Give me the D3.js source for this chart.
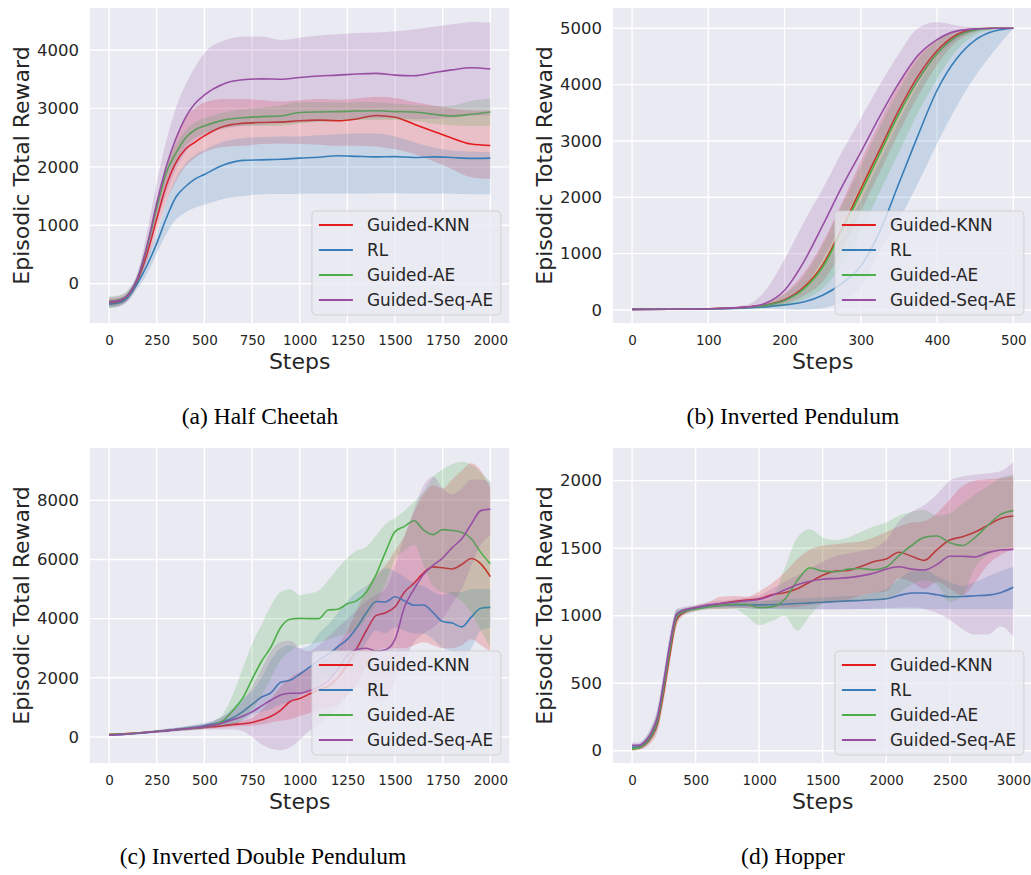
<!DOCTYPE html>
<html>
<head>
<meta charset="utf-8">
<script src="https://cdn.jsdelivr.net/npm/d3@7"></script>
<style>
  body { margin: 0; background: #ffffff; }
  svg { display: block; }
</style>
</head>
<body>
<div id="chart"></div>
<script>
// legend labels and their colours (seaborn Set1)
var seriesNames = ['Guided-KNN', 'RL', 'Guided-AE', 'Guided-Seq-AE']
var seriesColors = ['#e41a1c', '#377eb8', '#4daf4a', '#984ea3']

// (a) half cheetah
var cheetahSteps = [0, 50, 100, 150, 200, 250, 300, 350, 400, 450, 500, 600, 700, 800, 900, 1000, 1100, 1200, 1300, 1400, 1500, 1600, 1700, 1800, 1900, 2000]
var cheetahKnn = [-330, -310, -210, 60, 520, 1110, 1680, 2070, 2300, 2420, 2530, 2690, 2745, 2760, 2765, 2790, 2800, 2790, 2820, 2880, 2850, 2730, 2610, 2490, 2390, 2365]
var cheetahKnnHi = [-260, -240, -150, 150, 650, 1300, 1950, 2500, 2850, 3000, 3100, 3160, 3160, 3140, 3120, 3140, 3160, 3150, 3170, 3200, 3180, 3110, 3050, 3000, 2960, 2960]
var cheetahKnnLo = [-400, -380, -280, -20, 380, 900, 1400, 1750, 2000, 2150, 2250, 2340, 2360, 2390, 2400, 2390, 2380, 2360, 2360, 2350, 2300, 2220, 2100, 1960, 1820, 1790]
var cheetahRl = [-350, -330, -230, 10, 320, 690, 1120, 1480, 1660, 1790, 1870, 2030, 2110, 2120, 2130, 2150, 2165, 2190, 2180, 2170, 2175, 2160, 2170, 2160, 2145, 2150]
var cheetahRlHi = [-280, -260, -170, 120, 480, 860, 1400, 1800, 2050, 2200, 2290, 2430, 2490, 2510, 2520, 2520, 2540, 2560, 2570, 2570, 2520, 2420, 2330, 2280, 2260, 2250]
var cheetahRlLo = [-420, -400, -300, -80, 170, 520, 850, 1100, 1220, 1300, 1350, 1450, 1500, 1530, 1535, 1540, 1545, 1545, 1545, 1550, 1550, 1545, 1545, 1540, 1530, 1530]
var cheetahAe = [-300, -280, -180, 100, 640, 1300, 1900, 2230, 2490, 2630, 2700, 2800, 2840, 2860, 2870, 2930, 2940, 2945, 2955, 2960, 2945, 2940, 2900, 2870, 2900, 2940]
var cheetahAeHi = [-220, -200, -110, 180, 760, 1450, 2050, 2380, 2620, 2760, 2830, 2930, 2980, 3010, 3050, 3110, 3110, 3100, 3110, 3110, 3080, 3060, 3040, 3050, 3130, 3170]
var cheetahAeLo = [-420, -380, -260, 0, 520, 1150, 1750, 2080, 2360, 2500, 2570, 2670, 2700, 2700, 2700, 2740, 2770, 2790, 2800, 2800, 2800, 2790, 2740, 2710, 2700, 2700]
var cheetahSeq = [-310, -290, -190, 100, 660, 1375, 2000, 2480, 2840, 3080, 3230, 3420, 3490, 3505, 3500, 3530, 3555, 3570, 3590, 3600, 3570, 3560, 3610, 3660, 3695, 3675]
var cheetahSeqHi = [-230, -210, -110, 200, 900, 1720, 2450, 3000, 3400, 3700, 3950, 4160, 4225, 4230, 4170, 4210, 4250, 4270, 4290, 4300, 4320, 4350, 4400, 4440, 4480, 4470]
var cheetahSeqLo = [-390, -370, -270, 0, 450, 1050, 1550, 1950, 2250, 2450, 2550, 2650, 2700, 2720, 2740, 2760, 2780, 2800, 2820, 2830, 2830, 2820, 2820, 2840, 2880, 2880]

// (b) inverted pendulum
var pendSteps = [0, 50, 100, 150, 175, 200, 225, 250, 275, 300, 325, 350, 375, 400, 425, 450, 475, 500]
var pendKnn = [10, 12, 20, 50, 90, 180, 400, 800, 1450, 2150, 2850, 3550, 4150, 4600, 4880, 4980, 5000, 5000]
var pendKnnHi = [20, 22, 32, 70, 130, 300, 650, 1200, 1900, 2650, 3350, 4000, 4500, 4800, 4950, 5000, 5000, 5000]
var pendKnnLo = [2, 4, 10, 30, 60, 110, 250, 500, 1050, 1750, 2450, 3150, 3800, 4350, 4750, 4930, 4990, 5000]
var pendRl = [10, 12, 18, 35, 55, 90, 140, 260, 470, 780, 1400, 2250, 3100, 3900, 4450, 4790, 4950, 5000]
var pendRlHi = [25, 28, 35, 60, 100, 180, 350, 750, 1300, 1950, 2650, 3350, 4000, 4500, 4850, 4980, 5000, 5000]
var pendRlLo = [0, 0, 5, 15, 20, 10, 5, 30, 150, 400, 1050, 1600, 2250, 2950, 3600, 4150, 4600, 5000]
var pendAe = [10, 12, 20, 45, 85, 170, 370, 760, 1400, 2080, 2780, 3480, 4080, 4550, 4850, 4970, 5000, 5000]
var pendAeHi = [20, 22, 30, 65, 120, 280, 600, 1150, 1850, 2550, 3250, 3900, 4450, 4780, 4950, 5020, 5010, 5000]
var pendAeLo = [2, 4, 10, 25, 40, 80, 180, 380, 800, 1400, 2100, 2800, 3500, 4100, 4600, 4880, 4980, 5000]
var pendSeq = [10, 12, 20, 50, 120, 350, 850, 1500, 2180, 2800, 3440, 4030, 4520, 4800, 4950, 4990, 5000, 5000]
var pendSeqHi = [20, 25, 35, 90, 350, 900, 1550, 2150, 2800, 3400, 4000, 4550, 5000, 5110, 5050, 5010, 5000, 5000]
var pendSeqLo = [2, 4, 10, 25, 60, 150, 400, 900, 1550, 2200, 2850, 3500, 4050, 4500, 4800, 4950, 5000, 5000]

// (c) inverted double pendulum
var doubleSteps = [0, 50, 100, 150, 200, 250, 300, 350, 400, 450, 500, 550, 600, 650, 700, 750, 800, 850, 900, 950, 1000, 1050, 1100, 1150, 1200, 1250, 1300, 1350, 1400, 1450, 1500, 1550, 1600, 1650, 1700, 1750, 1800, 1850, 1900, 1950, 2000]
var doubleKnn = [90, 100, 115, 135, 160, 185, 215, 245, 270, 295, 320, 350, 380, 420, 450, 490, 580, 700, 900, 1200, 1300, 1450, 1600, 1720, 2000, 2450, 3000, 3600, 4100, 4200, 4400, 4900, 5200, 5550, 5750, 5720, 5680, 5830, 6030, 5850, 5420]
var doubleKnnHi = [110, 120, 140, 160, 190, 220, 250, 280, 310, 340, 370, 410, 450, 500, 560, 650, 900, 1300, 1700, 2000, 2200, 2300, 2500, 2700, 3100, 3600, 4300, 5000, 5500, 5800, 6300, 6800, 7600, 8200, 8500, 8400, 8700, 9000, 9250, 9000, 8400]
var doubleKnnLo = [70, 80, 90, 110, 130, 150, 180, 210, 230, 250, 270, 290, 320, 350, 370, 380, 420, 500, 550, 600, 700, 800, 900, 1000, 1100, 1400, 1800, 2400, 2900, 3000, 3000, 3000, 3100, 3200, 3100, 3000, 3000, 3100, 3300, 3100, 2900]
var doubleRl = [60, 80, 100, 125, 155, 185, 215, 250, 290, 330, 380, 450, 520, 650, 850, 1100, 1350, 1500, 1850, 1920, 2120, 2350, 2600, 2800, 3050, 3300, 3700, 4200, 4580, 4560, 4740, 4600, 4450, 4460, 4200, 3900, 3850, 3720, 4050, 4350, 4380]
var doubleRlHi = [90, 110, 130, 160, 190, 230, 270, 310, 360, 410, 470, 560, 700, 1000, 1300, 1550, 2000, 2600, 3000, 3100, 3000, 3100, 3500, 3800, 4200, 4600, 4900, 5100, 5400, 5700, 5600, 5400, 5200, 5100, 4900, 4800, 4900, 4900, 5000, 5000, 5000]
var doubleRlLo = [30, 50, 70, 90, 120, 140, 160, 190, 220, 250, 290, 340, 380, 430, 550, 750, 850, 950, 1100, 1200, 1400, 1600, 1800, 2000, 2200, 2400, 2700, 3200, 3600, 3500, 3700, 3600, 3500, 3500, 3300, 3000, 2900, 2700, 3000, 3600, 3700]
var doubleAe = [80, 95, 110, 130, 160, 190, 220, 250, 280, 310, 340, 420, 560, 900, 1300, 1950, 2560, 3050, 3700, 3980, 4010, 4000, 4000, 4290, 4320, 4500, 4610, 4900, 5480, 6250, 6940, 7120, 7310, 6990, 6840, 7010, 6980, 6920, 6700, 6240, 5850]
var doubleAeHi = [120, 135, 150, 170, 200, 230, 260, 300, 340, 380, 430, 530, 800, 1450, 2300, 3150, 3800, 4450, 4900, 4990, 4800, 4850, 4950, 5300, 5700, 6050, 6300, 6430, 6800, 7200, 7400, 7650, 7950, 8300, 8800, 9050, 9220, 9300, 9200, 8950, 8630]
var doubleAeLo = [40, 55, 70, 90, 120, 150, 180, 200, 220, 250, 270, 330, 380, 450, 600, 900, 1400, 2000, 2600, 2900, 3100, 3150, 3200, 3300, 3400, 3500, 3650, 4000, 4500, 5200, 6000, 6300, 6500, 5800, 5100, 4900, 4800, 4600, 4200, 3600, 3000]
var doubleSeq = [60, 80, 100, 125, 155, 185, 215, 250, 280, 310, 350, 400, 480, 580, 700, 850, 1050, 1250, 1420, 1480, 1480, 1560, 1700, 1900, 2300, 2750, 2960, 3000, 2900, 2950, 3300, 4400, 5000, 5500, 5800, 6050, 6400, 6700, 7200, 7650, 7700]
var doubleSeqHi = [90, 110, 130, 160, 190, 230, 270, 310, 350, 400, 450, 550, 700, 900, 1200, 1700, 2300, 2900, 3200, 3250, 3000, 2900, 3100, 3400, 3700, 4000, 4300, 4600, 4800, 5000, 5800, 6800, 7700, 8500, 8800, 8400, 8200, 8400, 8700, 8700, 8600]
var doubleSeqLo = [30, 50, 70, 90, 120, 140, 160, 190, 210, 230, 250, 250, 250, 250, 200, 0, -250, -400, -450, -350, -100, 200, 400, 700, 1000, 1400, 1700, 1500, 1200, 1300, 1900, 2600, 3200, 3500, 3700, 4000, 4500, 5000, 5800, 6500, 6800]

// (d) hopper
var hopperSteps = [0, 50, 100, 150, 200, 250, 300, 350, 400, 500, 600, 700, 800, 900, 1000, 1100, 1200, 1300, 1400, 1500, 1600, 1700, 1800, 1900, 2000, 2100, 2200, 2300, 2400, 2500, 2600, 2700, 2800, 2900, 3000]
var hopperKnn = [15, 20, 45, 100, 200, 440, 730, 970, 1020, 1055, 1075, 1090, 1105, 1115, 1125, 1155, 1170, 1200, 1250, 1300, 1330, 1335, 1365, 1400, 1420, 1470, 1440, 1410, 1490, 1560, 1585, 1620, 1670, 1720, 1738]
var hopperKnnHi = [35, 40, 75, 150, 270, 520, 810, 1020, 1045, 1075, 1100, 1140, 1145, 1140, 1180, 1240, 1320, 1420, 1490, 1520, 1530, 1540, 1550, 1580, 1620, 1660, 1690, 1700, 1760, 1860, 1960, 2000, 2010, 2020, 2030]
var hopperKnnLo = [0, 5, 20, 60, 140, 370, 660, 920, 995, 1035, 1050, 1050, 1055, 1060, 1060, 1060, 1060, 1065, 1080, 1090, 1100, 1120, 1150, 1170, 1180, 1280, 1250, 1200, 1250, 1200, 1150, 1250, 1380, 1450, 1490]
var hopperRl = [25, 30, 60, 120, 240, 500, 790, 1000, 1030, 1055, 1070, 1075, 1080, 1080, 1080, 1082, 1085, 1090, 1095, 1100, 1105, 1110, 1113, 1118, 1125, 1150, 1168, 1168, 1155, 1140, 1142, 1148, 1152, 1170, 1210]
var hopperRlHi = [45, 50, 90, 160, 300, 570, 860, 1040, 1050, 1070, 1085, 1090, 1095, 1100, 1110, 1115, 1120, 1125, 1130, 1135, 1140, 1145, 1150, 1170, 1200, 1270, 1330, 1340, 1290, 1250, 1220, 1250, 1290, 1330, 1360]
var hopperRlLo = [10, 15, 35, 85, 180, 430, 720, 960, 1010, 1040, 1055, 1060, 1060, 1055, 1050, 1050, 1050, 1050, 1050, 1050, 1050, 1050, 1050, 1050, 1050, 1050, 1050, 1050, 1050, 1050, 1050, 1050, 1050, 1050, 1050]
var hopperAe = [15, 20, 50, 110, 220, 470, 760, 990, 1030, 1050, 1065, 1075, 1085, 1085, 1060, 1065, 1120, 1260, 1355, 1330, 1325, 1345, 1350, 1340, 1360, 1445, 1520, 1580, 1590, 1540, 1520, 1580, 1670, 1750, 1778]
var hopperAeHi = [35, 40, 80, 160, 290, 550, 840, 1040, 1055, 1070, 1085, 1095, 1110, 1115, 1105, 1130, 1350, 1580, 1640, 1580, 1560, 1580, 1620, 1660, 1690, 1740, 1770, 1785, 1740, 1760, 1830, 1900, 1960, 2020, 2050]
var hopperAeLo = [0, 5, 25, 70, 160, 400, 690, 940, 1005, 1030, 1045, 1050, 1050, 1000, 930, 960, 1000, 890, 1000, 1090, 1100, 1100, 1110, 1110, 1120, 1170, 1230, 1260, 1230, 1100, 1150, 1360, 1450, 1490, 1510]
var hopperSeq = [40, 40, 65, 130, 250, 510, 800, 1010, 1040, 1060, 1080, 1090, 1100, 1110, 1120, 1150, 1190, 1230, 1255, 1270, 1276, 1282, 1295, 1315, 1345, 1362, 1345, 1338, 1380, 1440, 1440, 1435, 1467, 1486, 1491]
var hopperSeqHi = [60, 60, 95, 180, 320, 590, 870, 1050, 1065, 1080, 1100, 1110, 1120, 1135, 1150, 1200, 1250, 1300, 1350, 1400, 1440, 1460, 1480, 1500, 1560, 1700, 1770, 1820, 1900, 2000, 2030, 2045, 2055, 2070, 2140]
var hopperSeqLo = [20, 20, 40, 90, 190, 440, 730, 960, 1015, 1040, 1055, 1060, 1060, 1055, 1050, 1050, 1048, 1046, 1045, 1045, 1046, 1048, 1050, 1052, 1055, 1058, 1060, 1050, 1020, 970, 900, 860, 860, 920, 845]

// tick labels
var cheetahXTicks = [0, 250, 500, 750, 1000, 1250, 1500, 1750, 2000]
var cheetahYTicks = [0, 1000, 2000, 3000, 4000]
var pendXTicks = [0, 100, 200, 300, 400, 500]
var pendYTicks = [0, 1000, 2000, 3000, 4000, 5000]
var doubleXTicks = [0, 250, 500, 750, 1000, 1250, 1500, 1750, 2000]
var doubleYTicks = [0, 2000, 4000, 6000, 8000]
var hopperXTicks = [0, 500, 1000, 1500, 2000, 2500, 3000]
var hopperYTicks = [0, 500, 1000, 1500, 2000]

var captions = ['(a) Half Cheetah', '(b) Inverted Pendulum', '(c) Inverted Double Pendulum', '(d) Hopper']

var width = 1031
var height = 875
var textColor = '#262626'
var font = '"DejaVu Sans", "Liberation Sans", sans-serif'
var plain = d3.format('d')

var svg = d3.select('#chart')
    .append('svg')
    .attr('width', width)
    .attr('height', height)

var panels = [
    {
        steps: cheetahSteps,
        series: [[cheetahKnn, cheetahKnnLo, cheetahKnnHi], [cheetahRl, cheetahRlLo, cheetahRlHi], [cheetahAe, cheetahAeLo, cheetahAeHi], [cheetahSeq, cheetahSeqLo, cheetahSeqHi]],
        xDomain: [-100, 2100], yDomain: [-673, 4719],
        left: 90, right: 509.4, top: 8, bottom: 323,
        xTicks: cheetahXTicks, yTicks: cheetahYTicks,
        ylabelX: 29, caption: captions[0], captionX: 260, captionY: 424
    },
    {
        steps: pendSteps,
        series: [[pendKnn, pendKnnLo, pendKnnHi], [pendRl, pendRlLo, pendRlHi], [pendAe, pendAeLo, pendAeHi], [pendSeq, pendSeqLo, pendSeqHi]],
        xDomain: [-25, 525], yDomain: [-231, 5360],
        left: 613, right: 1032.4, top: 8, bottom: 323,
        xTicks: pendXTicks, yTicks: pendYTicks,
        ylabelX: 552, caption: captions[1], captionX: 793, captionY: 424
    },
    {
        steps: doubleSteps,
        series: [[doubleKnn, doubleKnnLo, doubleKnnHi], [doubleRl, doubleRlLo, doubleRlHi], [doubleAe, doubleAeLo, doubleAeHi], [doubleSeq, doubleSeqLo, doubleSeqHi]],
        xDomain: [-100, 2100], yDomain: [-879, 9767],
        left: 90, right: 509.4, top: 448, bottom: 763,
        xTicks: doubleXTicks, yTicks: doubleYTicks,
        ylabelX: 29, caption: captions[2], captionX: 263, captionY: 864
    },
    {
        steps: hopperSteps,
        series: [[hopperKnn, hopperKnnLo, hopperKnnHi], [hopperRl, hopperRlLo, hopperRlHi], [hopperAe, hopperAeLo, hopperAeHi], [hopperSeq, hopperSeqLo, hopperSeqHi]],
        xDomain: [-150, 3150], yDomain: [-91, 2242],
        left: 613, right: 1032.4, top: 448, bottom: 763,
        xTicks: hopperXTicks, yTicks: hopperYTicks,
        ylabelX: 552, caption: captions[3], captionX: 793, captionY: 864
    }
]

panels.forEach(function (p, idx) { draw_panel(p, idx) })

function draw_panel(p, idx) {
    var x = d3.scaleLinear().domain(p.xDomain).range([p.left, p.right])
    var y = d3.scaleLinear().domain(p.yDomain).range([p.bottom, p.top])
    var g = svg.append('g')

    // seaborn darkgrid background
    g.append('rect')
        .attr('x', p.left)
        .attr('y', p.top)
        .attr('width', p.right - p.left)
        .attr('height', p.bottom - p.top)
        .attr('fill', '#eaeaf2')

    g.selectAll('vgrid')
        .data(p.xTicks)
        .enter()
        .append('line')
        .attr('x1', function (d) { return x(d) })
        .attr('x2', function (d) { return x(d) })
        .attr('y1', p.top)
        .attr('y2', p.bottom)
        .attr('stroke', '#ffffff')
        .attr('stroke-width', 1.4)

    g.selectAll('hgrid')
        .data(p.yTicks)
        .enter()
        .append('line')
        .attr('x1', p.left)
        .attr('x2', p.right)
        .attr('y1', function (d) { return y(d) })
        .attr('y2', function (d) { return y(d) })
        .attr('stroke', '#ffffff')
        .attr('stroke-width', 1.4)

    var clipId = 'clip' + idx
    svg.append('clipPath')
        .attr('id', clipId)
        .append('rect')
        .attr('x', p.left)
        .attr('y', p.top)
        .attr('width', p.right - p.left)
        .attr('height', p.bottom - p.top)

    var plot = g.append('g').attr('clip-path', 'url(#' + clipId + ')')

    var area = d3.area()
        .x(function (d) { return x(d.step) })
        .y0(function (d) { return y(d.lo) })
        .y1(function (d) { return y(d.hi) })
        .curve(d3.curveMonotoneX)

    var line = d3.line()
        .x(function (d) { return x(d.step) })
        .y(function (d) { return y(d.mean) })
        .curve(d3.curveMonotoneX)

    // band then line, series by series like matplotlib does
    p.series.forEach(function (s, i) {
        var rows = p.steps.map(function (st, j) {
            return { step: st, mean: s[0][j], lo: s[1][j], hi: s[2][j] }
        })
        plot.append('path')
            .datum(rows)
            .attr('d', area)
            .attr('fill', seriesColors[i])
            .attr('fill-opacity', 0.2)
        plot.append('path')
            .datum(rows)
            .attr('d', line)
            .attr('fill', 'none')
            .attr('stroke', seriesColors[i])
            .attr('stroke-width', 1.6)
    })

    // axes, no spines and no tick marks
    var xAxis = g.append('g')
        .attr('transform', 'translate(0,' + p.bottom + ')')
        .call(d3.axisBottom(x).tickValues(p.xTicks).tickFormat(plain).tickSize(0).tickPadding(12.4))
    xAxis.select('.domain').remove()
    xAxis.selectAll('text')
        .attr('fill', textColor)
        .style('font-family', font)
        .style('font-size', '13.5px')

    var yAxis = g.append('g')
        .attr('transform', 'translate(' + p.left + ',0)')
        .call(d3.axisLeft(y).tickValues(p.yTicks).tickFormat(plain).tickSize(0).tickPadding(11))
    yAxis.select('.domain').remove()
    yAxis.selectAll('text')
        .attr('fill', textColor)
        .style('font-family', font)
        .style('font-size', '16.5px')

    g.append('text')
        .text('Steps')
        .attr('x', (p.left + p.right) / 2)
        .attr('y', p.bottom + 46)
        .attr('text-anchor', 'middle')
        .attr('fill', textColor)
        .style('font-family', font)
        .style('font-size', '22px')

    g.append('text')
        .text('Episodic Total Reward')
        .attr('transform', 'translate(' + p.ylabelX + ',' + (p.top + p.bottom) / 2 + ') rotate(-90)')
        .attr('text-anchor', 'middle')
        .attr('fill', textColor)
        .style('font-family', font)
        .style('font-size', '22px')

    // legend in the lower right corner
    var lgW = 189
    var lgH = 104
    var lgX = p.right - 8.5 - lgW
    var lgY = p.bottom - 8 - lgH
    var legend = g.append('g').attr('transform', 'translate(' + lgX + ',' + lgY + ')')
    legend.append('rect')
        .attr('width', lgW)
        .attr('height', lgH)
        .attr('rx', 4)
        .attr('fill', '#eaeaf2')
        .attr('fill-opacity', 0.8)
        .attr('stroke', '#cccccc')
        .attr('stroke-opacity', 0.8)
        .attr('stroke-width', 1)

    var items = legend.selectAll('items')
        .data(seriesNames)
        .enter()
        .append('g')
        .attr('transform', function (d, i) { return 'translate(0,' + (14 + i * 25) + ')' })

    items.append('line')
        .attr('x1', 7)
        .attr('x2', 41)
        .attr('stroke', function (d, i) { return seriesColors[i] })
        .attr('stroke-width', 1.8)

    items.append('text')
        .text(function (d) { return d })
        .attr('x', 55)
        .attr('dy', '0.35em')
        .attr('fill', textColor)
        .style('font-family', font)
        .style('font-size', '16.9px')

    // sub caption below each panel
    svg.append('text')
        .text(p.caption)
        .attr('x', p.captionX)
        .attr('y', p.captionY)
        .attr('text-anchor', 'middle')
        .attr('fill', '#000000')
        .style('font-family', '"Liberation Serif", "Times New Roman", serif')
        .style('font-size', '23.5px')
}
</script>
</body>
</html>
